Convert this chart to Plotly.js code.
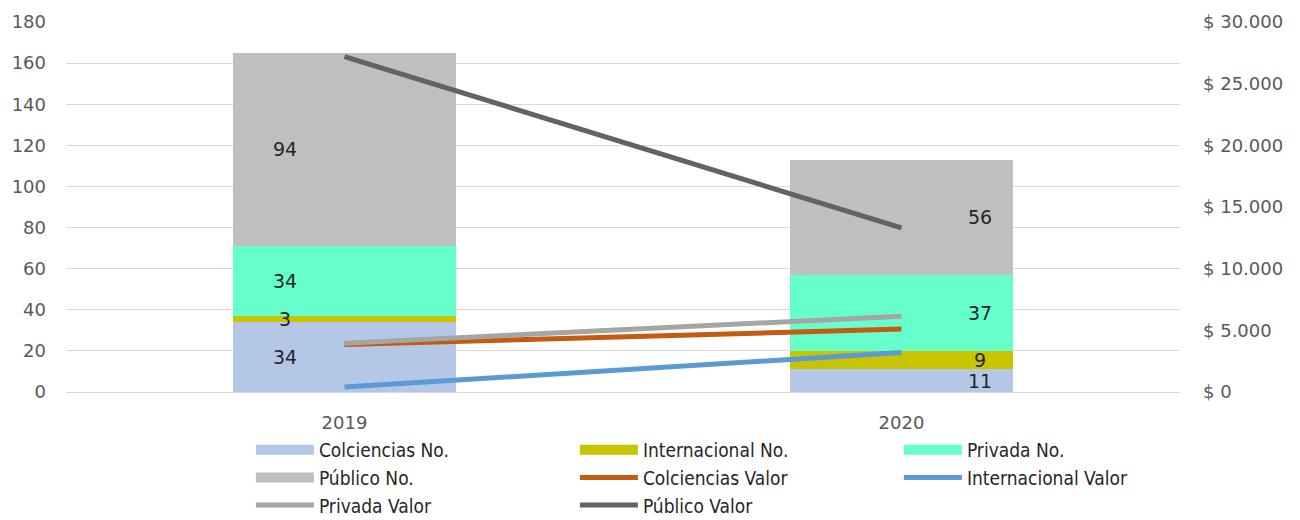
<!DOCTYPE html>
<html><head><meta charset="utf-8">
<script src="https://cdn.plot.ly/plotly-3.0.1.min.js"></script>
<style>html,body{margin:0;padding:0;background:#fff}#chart{width:1300px;height:520px}</style>
</head><body><div id="chart"></div>
<script>
const years = ['2019', '2020'];
const colcienciasNo = [34, 11];
const internacionalNo = [3, 9];
const privadaNo = [34, 37];
const publicoNo = [94, 56];
const colcienciasValor = [3850, 5100];
const internacionalValor = [400, 3200];
const privadaValor = [3950, 6150];
const publicoValor = [27200, 13300];

const LEGFONT = {family: 'DejaVu Sans Condensed, DejaVu Sans', stretch: 'condensed', size: 19, color: '#262626'};
const TICKFONT = {family: 'DejaVu Sans, sans-serif', size: 18, color: '#595959'};

const barSeries = [
  {name: 'Colciencias No.', y: colcienciasNo, color: '#B4C7E7'},
  {name: 'Internacional No.', y: internacionalNo, color: '#C9C400'},
  {name: 'Privada No.', y: privadaNo, color: '#66FFCC'},
  {name: 'Público No.', y: publicoNo, color: '#BFBFBF'}
];
const lineSeries = [
  {name: 'Colciencias Valor', y: colcienciasValor, color: '#C55A11'},
  {name: 'Internacional Valor', y: internacionalValor, color: '#5B9BD5'},
  {name: 'Privada Valor', y: privadaValor, color: '#A5A5A5'},
  {name: 'Público Valor', y: publicoValor, color: '#636363'}
];

const traces = [];
barSeries.forEach(s => traces.push({
  type: 'bar', name: s.name, x: years, y: s.y, marker: {color: s.color},
  showlegend: false
}));
// legend proxies for bars (wide rectangular swatches like the original)
barSeries.forEach(s => traces.push({
  type: 'scatter', mode: 'lines', name: s.name, x: [null], y: [null],
  line: {color: s.color, width: 12}, showlegend: true
}));
lineSeries.forEach(s => traces.push({
  type: 'scatter', mode: 'lines', name: s.name, x: years, y: s.y, yaxis: 'y2',
  line: {color: s.color, width: 5}
}));

// data labels: 2019 left of centre, 2020 right of centre
const shifts = [-60, 78];
const annotations = [];
years.forEach((yr, i) => {
  let base = 0;
  barSeries.forEach(s => {
    const v = s.y[i];
    annotations.push({
      x: i, y: base + v / 2, xref: 'x', yref: 'y', text: String(v),
      showarrow: false, xshift: shifts[i],
      font: {family: 'DejaVu Sans, sans-serif', size: 19, color: '#262626'}
    });
    base += v;
  });
});

const layout = {
  width: 1300, height: 520,
  margin: {l: 66, r: 120, t: 22, b: 128, autoexpand: false},
  paper_bgcolor: '#fff', plot_bgcolor: '#fff',
  barmode: 'stack', bargap: 0.6,
  separators: ',.',
  showlegend: true,
  xaxis: {
    type: 'category', range: [-0.5, 1.5], autorange: false,
    showgrid: false, zeroline: false, showline: false,
    ticks: '', tickfont: TICKFONT, ticklabelstandoff: 18
  },
  yaxis: {
    range: [0, 180], dtick: 20, showgrid: true, gridcolor: '#D9D9D9', gridwidth: 1,
    zeroline: true, zerolinecolor: '#D9D9D9', showline: false, ticks: '',
    tickfont: TICKFONT, ticklabelstandoff: 19
  },
  yaxis2: {
    overlaying: 'y', side: 'right', range: [0, 30000], dtick: 5000,
    showgrid: false, zeroline: false, showline: false, ticks: '',
    tickformat: ',.0f', tickprefix: '$ ', tickfont: TICKFONT, ticklabelstandoff: 22
  },
  legend: {
    orientation: 'h', xref: 'container', x: 0.193, xanchor: 'left', y: -0.105, yanchor: 'top',
    traceorder: 'normal', entrywidth: 251, entrywidthmode: 'pixels',
    itemwidth: 58, tracegroupgap: 0,
    font: LEGFONT
  },
  annotations: annotations
};

Plotly.newPlot('chart', traces, layout, {displayModeBar: false, staticPlot: true});
</script></body></html>
